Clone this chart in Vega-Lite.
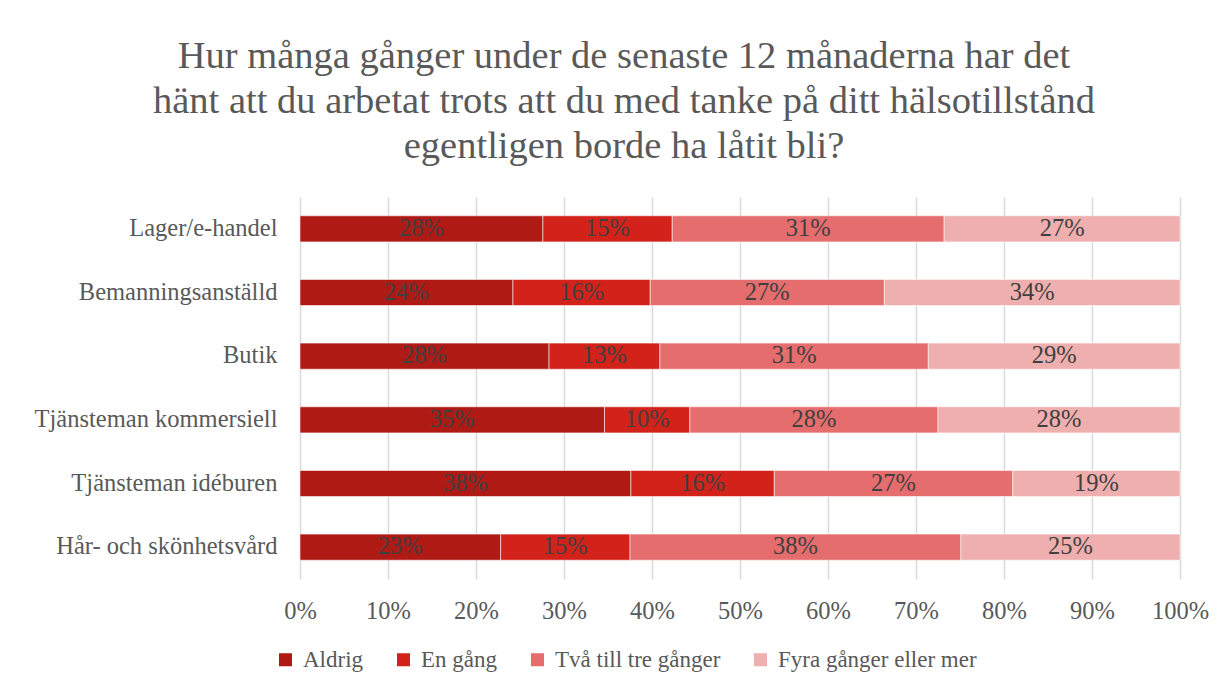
{
  "$schema": "https://vega.github.io/schema/vega-lite/v6.json",
  "autosize": "none",
  "width": 880,
  "height": 382,
  "padding": {"left": 300, "top": 197, "right": 44, "bottom": 111},
  "background": "#ffffff",
  "title": {
    "text": ["Hur många gånger under de senaste 12 månaderna har det", "hänt att du arbetat trots att du med tanke på ditt hälsotillstånd", "egentligen borde ha låtit bli?"],
    "anchor": "middle",
    "dx": -116,
    "font": "Liberation Serif",
    "fontSize": 38.5,
    "fontWeight": "normal",
    "lineHeight": 45,
    "color": "#595959",
    "offset": 31
  },
  "data": {
    "values": [
      {"cat": "Lager/e-handel", "serie": "Aldrig", "v": 27.6},
      {"cat": "Lager/e-handel", "serie": "En gång", "v": 14.7},
      {"cat": "Lager/e-handel", "serie": "Två till tre gånger", "v": 30.9},
      {"cat": "Lager/e-handel", "serie": "Fyra gånger eller mer", "v": 26.8},
      {"cat": "Bemanningsanställd", "serie": "Aldrig", "v": 24.2},
      {"cat": "Bemanningsanställd", "serie": "En gång", "v": 15.6},
      {"cat": "Bemanningsanställd", "serie": "Två till tre gånger", "v": 26.6},
      {"cat": "Bemanningsanställd", "serie": "Fyra gånger eller mer", "v": 33.6},
      {"cat": "Butik", "serie": "Aldrig", "v": 28.3},
      {"cat": "Butik", "serie": "En gång", "v": 12.6},
      {"cat": "Butik", "serie": "Två till tre gånger", "v": 30.5},
      {"cat": "Butik", "serie": "Fyra gånger eller mer", "v": 28.6},
      {"cat": "Tjänsteman kommersiell ", "serie": "Aldrig", "v": 34.6},
      {"cat": "Tjänsteman kommersiell ", "serie": "En gång", "v": 9.7},
      {"cat": "Tjänsteman kommersiell ", "serie": "Två till tre gånger", "v": 28.2},
      {"cat": "Tjänsteman kommersiell ", "serie": "Fyra gånger eller mer", "v": 27.5},
      {"cat": "Tjänsteman idéburen", "serie": "Aldrig", "v": 37.6},
      {"cat": "Tjänsteman idéburen", "serie": "En gång", "v": 16.3},
      {"cat": "Tjänsteman idéburen", "serie": "Två till tre gånger", "v": 27.1},
      {"cat": "Tjänsteman idéburen", "serie": "Fyra gånger eller mer", "v": 19.0},
      {"cat": "Hår- och skönhetsvård", "serie": "Aldrig", "v": 22.8},
      {"cat": "Hår- och skönhetsvård", "serie": "En gång", "v": 14.7},
      {"cat": "Hår- och skönhetsvård", "serie": "Två till tre gånger", "v": 37.6},
      {"cat": "Hår- och skönhetsvård", "serie": "Fyra gånger eller mer", "v": 24.9}
    ]
  },
  "transform": [
    {"calculate": "indexof(['Aldrig','En gång','Två till tre gånger','Fyra gånger eller mer'], datum.serie)", "as": "ord"},
    {"stack": "v", "groupby": ["cat"], "sort": [{"field": "ord", "order": "ascending"}], "offset": "normalize", "as": ["x0", "x1"]},
    {"calculate": "(datum.x0 + datum.x1) / 2", "as": "xm"},
    {"calculate": "format(datum.v / 100, '.0%')", "as": "lbl"}
  ],
  "encoding": {
    "y": {
      "field": "cat",
      "type": "nominal",
      "sort": ["Lager/e-handel", "Bemanningsanställd", "Butik", "Tjänsteman kommersiell ", "Tjänsteman idéburen", "Hår- och skönhetsvård"],
      "scale": {"paddingInner": 0.59, "paddingOuter": 0.295},
      "axis": {
        "title": null,
        "domain": false,
        "ticks": false,
        "labelPadding": 23,
        "labelFont": "Liberation Serif",
        "labelFontSize": 24.5,
        "labelColor": "#595959",
        "labelLimit": 400
      }
    },
    "x": {
      "field": "x0",
      "type": "quantitative",
      "scale": {"domain": [0, 1], "nice": false},
      "axis": {
        "title": null,
        "format": ".0%",
        "values": [0, 0.1, 0.2, 0.3, 0.4, 0.5, 0.6, 0.7, 0.8, 0.9, 1],
        "domain": false,
        "ticks": false,
        "grid": true,
        "gridColor": "#D9D9D9",
        "gridWidth": 1.5,
        "labelPadding": 20,
        "labelFont": "Liberation Serif",
        "labelFontSize": 24.5,
        "labelColor": "#595959",
        "labelFlush": false,
        "labelOverlap": false
      }
    }
  },
  "layer": [
    {
      "mark": {"type": "bar", "stroke": "#ffffff", "strokeWidth": 0.8, "strokeOpacity": 0.7},
      "encoding": {
        "x2": {"field": "x1"},
        "color": {
          "field": "serie",
          "type": "nominal",
          "sort": ["Aldrig", "En gång", "Två till tre gånger", "Fyra gånger eller mer"],
          "scale": {
            "domain": ["Aldrig", "En gång", "Två till tre gånger", "Fyra gånger eller mer"],
            "range": ["#AF1A15", "#D2221A", "#E66D6D", "#EFAFAF"]
          },
          "legend": {
            "title": null,
            "orient": "none",
            "direction": "horizontal",
            "legendX": -26,
            "legendY": 451,
            "symbolType": "square",
            "symbolSize": 169,
            "symbolStrokeWidth": 0,
            "labelFont": "Liberation Serif",
            "labelFontSize": 23,
            "labelColor": "#595959",
            "labelOffset": 6,
            "columnPadding": 28,
            "labelLimit": 400
          }
        }
      }
    },
    {
      "mark": {"type": "text", "font": "Liberation Serif", "fontSize": 24.5, "color": "#404040", "baseline": "middle", "align": "center"},
      "encoding": {
        "x": {"field": "xm", "type": "quantitative"},
        "text": {"field": "lbl"}
      }
    }
  ],
  "config": {
    "view": {"stroke": null}
  }
}
